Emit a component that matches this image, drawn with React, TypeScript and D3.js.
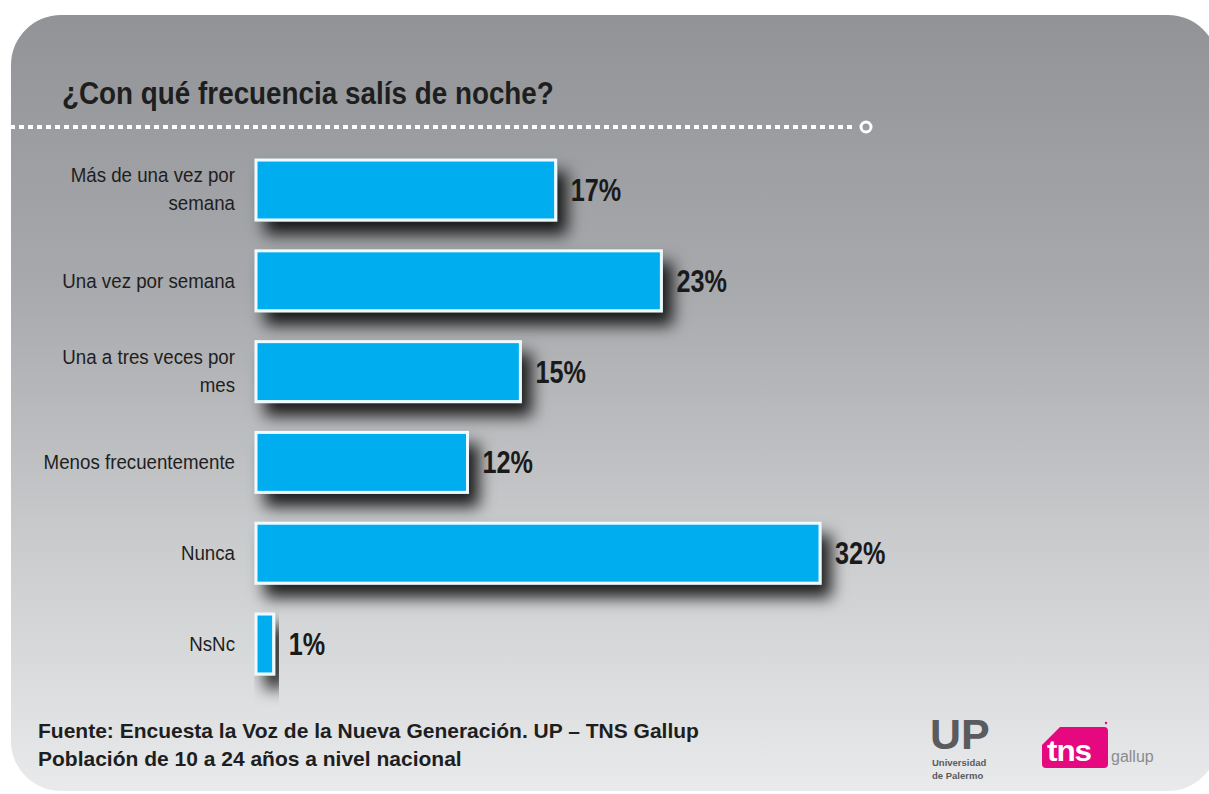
import React from "react";
import * as d3 from "d3";

const title = "¿Con qué frecuencia salís de noche?";
const categories = [
  "Más de una vez por\nsemana",
  "Una vez por semana",
  "Una a tres veces por\nmes",
  "Menos frecuentemente",
  "Nunca",
  "NsNc",
];
const values = [17, 23, 15, 12, 32, 1];
const footerLines = [
  "Fuente: Encuesta la Voz de la Nueva Generación. UP – TNS Gallup",
  "Población de 10 a 24 años a nivel nacional",
];

const W = 1209;
const H = 794;
const FONT = "'Liberation Sans', Arial, Helvetica, sans-serif";

export default function App() {
  const x = d3.scaleLinear().domain([0, 32]).range([256, 820]);
  const y = d3
    .scaleBand<string>()
    .domain(categories)
    .range([144.6, 689.4])
    .paddingInner(0.34)
    .paddingOuter(0.17);

  const dots = d3.range(10, 856, 9);

  return (
    <div style={{ position: "absolute", left: 0, top: 0, width: W, height: H, overflow: "hidden", background: "#fff" }}>
      <svg width={W} height={H} style={{ display: "block" }}>
        <defs>
          <linearGradient id="bg" x1="0" y1="0" x2="0" y2="1">
            <stop offset="0" stopColor="#919396" />
            <stop offset="0.35" stopColor="#a7a9ac" />
            <stop offset="0.7" stopColor="#cccdcf" />
            <stop offset="1" stopColor="#e9eaeb" />
          </linearGradient>
          <filter id="shadow" x="-10%" y="-40%" width="140%" height="220%">
            <feDropShadow dx="10" dy="13" stdDeviation="8" floodColor="#000" floodOpacity="0.85" />
          </filter>
        </defs>
        <rect x={11} y={15} width={1207} height={776} rx={50} ry={50} fill="url(#bg)" />

        <g transform="translate(62,104) scale(0.96,1.08)">
          <text x={0} y={0} fontFamily={FONT} fontWeight="bold" fontSize={29} fill="#1e1e1e">
            {title}
          </text>
        </g>

        {dots.map((d) => (
          <rect key={d} x={d} y={125} width={5} height={4} fill="#fff" />
        ))}
        <circle cx={866} cy={127} r={5} fill="#9a9c9f" stroke="#fff" strokeWidth={3} />

        {categories.map((c, i) => {
          const y0 = y(c)!;
          const bw = y.bandwidth();
          const cy = y0 + bw / 2;
          const lines = c.split("\n");
          const x1 = x(values[i]);
          return (
            <g key={c}>
              <rect
                x={x(0)}
                y={y0}
                width={x1 - x(0)}
                height={bw}
                fill="#00adef"
                stroke="#eefaff"
                strokeWidth={3}
                filter="url(#shadow)"
              />
              {lines.map((ln, j) => (
                <g
                  key={j}
                  transform={`translate(235,${lines.length === 1 ? cy + 7 : cy - 8 + j * 28}) scale(0.96,1.05)`}
                >
                  <text x={0} y={0} textAnchor="end" fontFamily={FONT} fontSize={19.5} fill="#1e1e1e">
                    {ln}
                  </text>
                </g>
              ))}
              <g transform={`translate(${x1 + 15},${cy + 11}) scale(0.84,1.05)`}>
                <text x={0} y={0} fontFamily={FONT} fontWeight="bold" fontSize={30} fill="#1a1a1a">
                  {values[i]}%
                </text>
              </g>
            </g>
          );
        })}

        {footerLines.map((t, i) => (
          <text key={i} x={38} y={738 + i * 28} fontFamily={FONT} fontWeight="bold" fontSize={21} fill="#1e1e1e">
            {t}
          </text>
        ))}

        {/* UP logo */}
        <g fill="#5a5b5e" fontFamily={FONT} fontWeight="bold">
          <text x={930} y={749} fontSize={43} letterSpacing={0}>UP</text>
          <text x={932} y={766} fontSize={9.5}>Universidad</text>
          <text x={932} y={779} fontSize={9.5}>de Palermo</text>
        </g>

        {/* TNS Gallup logo */}
        <path
          d="M1060,727 L1104,727 Q1108,727 1108,731 L1108,764 Q1108,768 1104,768 L1046,768 Q1042,768 1042,764 L1042,745 Z"
          fill="#e5087e"
        />
        <circle cx={1106} cy={723} r={1.2} fill="#e5087e" />
        <g transform="translate(1047,761) scale(1.05,1)">
          <text x={0} y={0} fontFamily={FONT} fontWeight="bold" fontSize={30} letterSpacing={-1} fill="#fff">tns</text>
        </g>
        <text x={1111} y={762} fontFamily={FONT} fontSize={16} fill="#8a8b8d">gallup</text>
      </svg>
    </div>
  );
}
